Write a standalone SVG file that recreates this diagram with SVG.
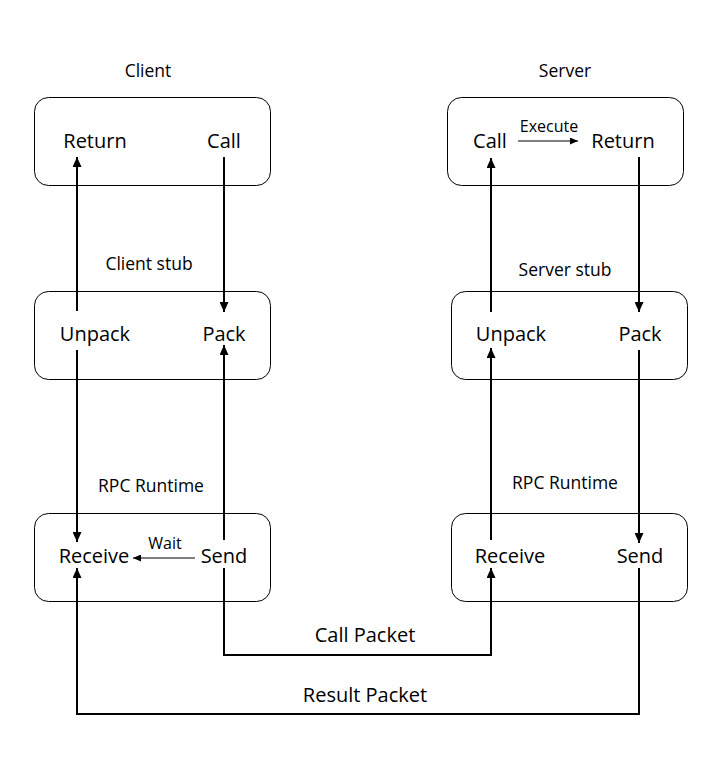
<svg xmlns="http://www.w3.org/2000/svg" width="720" height="768" viewBox="0 0 720 768">
<defs>
<style>
text{font-family:"Open Sans","Liberation Sans",sans-serif;fill:#000;text-anchor:middle}
.t{font-size:20px}
.l{font-size:17.5px}
.s{font-size:16px}
.box{fill:#fff;stroke:#000;stroke-width:1}
.c{fill:none;stroke:#000;stroke-width:2}
.c1{fill:none;stroke:#000;stroke-width:1.2}
</style>
<marker id="a" markerUnits="userSpaceOnUse" markerWidth="10" markerHeight="9" refX="10" refY="4.5" orient="auto">
<path d="M0,0 L10,4.5 L0,9 z" fill="#000"/>
</marker>
<marker id="b" markerUnits="userSpaceOnUse" markerWidth="8" markerHeight="7" refX="8" refY="3.5" orient="auto">
<path d="M0,0 L8,3.5 L0,7 z" fill="#000"/>
</marker>
</defs>
<rect width="720" height="768" fill="#fff"/>
<g id="labels">
<text class="l" x="148" y="77">Client</text>
<text class="l" x="565" y="77">Server</text>
<text class="l" x="149" y="270">Client stub</text>
<text class="l" x="565" y="276">Server stub</text>
<text class="l" x="151" y="492">RPC Runtime</text>
<text class="l" x="565" y="489">RPC Runtime</text>
</g>
<g id="client-app">
<rect class="box" x="34.5" y="97.5" width="236" height="88" rx="14"/>
<text class="t" x="95" y="148">Return</text>
<text class="t" x="224" y="148">Call</text>
</g>
<g id="client-stub">
<rect class="box" x="34.5" y="291.5" width="236" height="88" rx="14"/>
<text class="t" x="95" y="341">Unpack</text>
<text class="t" x="224" y="341">Pack</text>
</g>
<g id="client-runtime">
<rect class="box" x="34.5" y="513.5" width="236" height="88" rx="14"/>
<text class="t" x="94" y="563">Receive</text>
<text class="t" x="224" y="563">Send</text>
<text class="s" x="165" y="549">Wait</text>
</g>
<g id="server-app">
<rect class="box" x="447.5" y="97.5" width="236" height="88" rx="14"/>
<text class="t" x="490" y="148">Call</text>
<text class="t" x="623" y="148">Return</text>
<text class="s" x="549" y="132">Execute</text>
</g>
<g id="server-stub">
<rect class="box" x="451.5" y="291.5" width="236" height="88" rx="14"/>
<text class="t" x="511" y="341">Unpack</text>
<text class="t" x="640" y="341">Pack</text>
</g>
<g id="server-runtime">
<rect class="box" x="451.5" y="513.5" width="236" height="88" rx="14"/>
<text class="t" x="510" y="563">Receive</text>
<text class="t" x="640" y="563">Send</text>
</g>
<g id="connectors">
<path class="c" d="M224,157 V312" marker-end="url(#a)"/>
<path class="c" d="M77,311 V157" marker-end="url(#a)"/>
<path class="c" d="M77,350 V542" marker-end="url(#a)"/>
<path class="c" d="M224,540 V345" marker-end="url(#a)"/>
<path class="c1" d="M195,558 H133" marker-end="url(#b)"/>
<path class="c" d="M224,568 V655 H491 V568" marker-end="url(#a)"/>
<path class="c" d="M639,568 V714 H77 V568" marker-end="url(#a)"/>
<path class="c" d="M491,312 V158" marker-end="url(#a)"/>
<path class="c" d="M639,157 V312" marker-end="url(#a)"/>
<path class="c" d="M491,540 V348" marker-end="url(#a)"/>
<path class="c" d="M639,350 V543" marker-end="url(#a)"/>
<path class="c1" d="M518,141 H578" marker-end="url(#b)"/>
<text class="t" x="365" y="642">Call Packet</text>
<text class="t" x="365" y="702">Result Packet</text>
</g>
</svg>
